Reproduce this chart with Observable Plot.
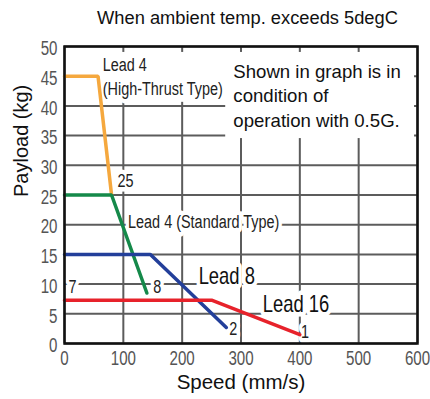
<!DOCTYPE html>
<html><head><meta charset="utf-8">
<script src="https://cdn.jsdelivr.net/npm/d3@7"></script>
<script src="https://cdn.jsdelivr.net/npm/@observablehq/plot@0.6"></script>
<style>
body{margin:0;background:#fff;width:430px;height:399px;overflow:hidden}
#title{height:36px;font:18.3px 'Liberation Sans',Arial,sans-serif;line-height:36px;text-align:center;padding-left:65px;box-sizing:border-box;width:430px;color:#111;white-space:nowrap}
#chart svg{display:block}
</style></head><body>
<div id="title">When ambient temp. exceeds 5degC</div>
<div id="chart"></div>
<script>
// ---- data ----
const series   = ["Lead 4 (High-Thrust Type)", "Lead 4 (Standard Type)", "Lead 8", "Lead 16"];
const speeds   = [[0, 57, 80], [0, 80, 140], [0, 146, 275], [0, 250, 400]];
const payloads = [[45, 45, 25], [25, 25, 8.5], [15, 15, 2.7], [7.3, 7.3, 1.5]];
const colors   = ["#F5A83E", "#15894A", "#233F9A", "#E7222B"];
const xTicks = [0, 100, 200, 300, 400, 500, 600];
const yTicks = [0, 5, 10, 15, 20, 25, 30, 35, 40, 45, 50];

// annotations (small labels)
const smallText    = ["Lead 4", "(High-Thrust Type)", "25", "Lead 4 (Standard Type)", "7", "8", "2", "1"];
const smallSpeed   = [65, 65, 90, 108, 7, 151, 280, 402];
const smallPayload = [46.9, 42.8, 27.3, 20.4, 9.6, 9.6, 2.5, 1.9];
// annotations (large labels)
const bigText    = ["Lead 8", "Lead 16"];
const bigSpeed   = [228, 337];
const bigPayload = [11.3, 6.5];
// note
const noteText = ["Shown in graph is in\ncondition of\noperation with 0.5G."];
const noteSpeed = [287];
const notePayload = [41.9];
// white backgrounds behind labels
const bgX1 = [58, 274], bgX2 = [276, 595], bgY1 = [40.6, 34.5], bgY2 = [49, 49];

// ---- tables ----
const lineData = series.flatMap((s, i) => speeds[i].map((v, j) => ({series: s, speed: v, payload: payloads[i][j]})));
const small = smallText.map((t, i) => ({t, x: smallSpeed[i], y: smallPayload[i]}));
const big = bigText.map((t, i) => ({t, x: bigSpeed[i], y: bigPayload[i]}));
const note = noteText.map((t, i) => ({t, x: noteSpeed[i], y: notePayload[i]}));
const bgs = bgX1.map((x1, i) => ({x1, x2: bgX2[i], y1: bgY1[i], y2: bgY2[i]}));

const narrow = "'Liberation Sans Narrow','Liberation Sans',Arial,sans-serif";
const sans = "'Liberation Sans',Arial,sans-serif";
// horizontal condensation per font size (emulates a narrow typeface)
const condense = {"21": 0.72, "19": 0.76, "23": 0.8};

const chart = Plot.plot({
  width: 430,
  height: 363,
  marginTop: 10,
  marginBottom: 56,
  marginLeft: 64,
  marginRight: 13,
  style: {fontFamily: sans, background: "#fff"},
  x: {domain: [0, 600]},
  y: {domain: [0, 50]},
  color: {domain: series, range: colors},
  marks: [
    Plot.ruleY(yTicks, {stroke: "#5c5c5c", strokeWidth: 2}),
    Plot.ruleX(xTicks, {stroke: "#5c5c5c", strokeWidth: 2}),
    Plot.rectY(bgs, {x1: "x1", x2: "x2", y1: "y1", y2: "y2", fill: "white"}),
    Plot.text(small, {x: "x", y: "y", text: "t", textAnchor: "start", fontFamily: narrow, fontSize: 19, fill: "white", stroke: "white", strokeWidth: 9, strokeLinejoin: "round"}),
    Plot.text(big, {x: "x", y: "y", text: "t", textAnchor: "start", fontFamily: narrow, fontSize: 23, fill: "white", stroke: "white", strokeWidth: 9, strokeLinejoin: "round"}),
    Plot.line(lineData, {x: "speed", y: "payload", z: "series", stroke: "series", strokeWidth: 3.5, strokeLinejoin: "miter"}),
    Plot.text(small, {x: "x", y: "y", text: "t", textAnchor: "start", fontFamily: narrow, fontSize: 19, fill: "#222"}),
    Plot.text(big, {x: "x", y: "y", text: "t", textAnchor: "start", fontFamily: narrow, fontSize: 23, fill: "#111"}),
    Plot.text(note, {x: "x", y: "y", text: "t", textAnchor: "start", fontFamily: sans, fontSize: 18.6, lineHeight: 1.32, fill: "#111"}),
    Plot.frame({stroke: "#111", strokeWidth: 2.5}),
    Plot.axisX({ticks: xTicks, tickSize: 0, tickPadding: 7, label: null, fontFamily: narrow, fontSize: 21, fill: "#555"}),
    Plot.axisY({ticks: yTicks, tickSize: 0, tickPadding: 7, label: null, fontFamily: narrow, fontSize: 21, fill: "#555", dy: 2}),
    Plot.text(["Payload (kg)"], {text: d => d, frameAnchor: "left", dx: -43, dy: 2, rotate: -90, fontFamily: sans, fontSize: 20, fill: "#111"}),
    Plot.text(["Speed (mm/s)"], {text: d => d, frameAnchor: "bottom", dy: 45, fontFamily: sans, fontSize: 20.5, fill: "#111"})
  ]
});
chart.querySelectorAll("g[font-family]").forEach(g => {
  if (!/Narrow/.test(g.getAttribute("font-family"))) return;
  const s = condense[String(parseFloat(g.getAttribute("font-size")))];
  if (!s) return;
  g.querySelectorAll("text").forEach(t => {
    const tr = t.getAttribute("transform") || "";
    t.setAttribute("transform", tr + ` scale(${s},1)`);
  });
});
document.getElementById("chart").appendChild(chart);
</script>
</body></html>
